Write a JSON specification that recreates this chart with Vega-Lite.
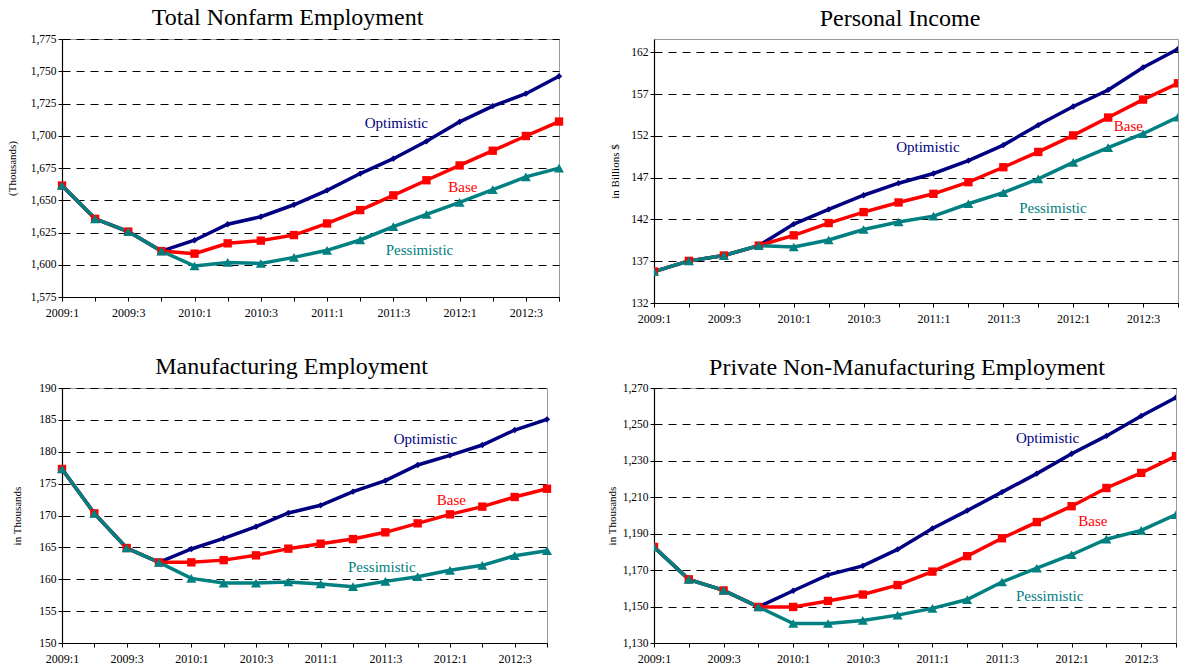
{
  "$schema": "https://vega.github.io/schema/vega-lite/v6.json",
  "padding": {"left": 5, "top": 5, "right": 0, "bottom": 0},
  "background": "white",
  "datasets": {
    "series": [
      {"p":"nonfarm","s":"Optimistic","t":0,"v":1661.4},{"p":"nonfarm","s":"Optimistic","t":1,"v":1635.6},{"p":"nonfarm","s":"Optimistic","t":2,"v":1625.7},{"p":"nonfarm","s":"Optimistic","t":3,"v":1610.6},
      {"p":"nonfarm","s":"Optimistic","t":4,"v":1619.0},{"p":"nonfarm","s":"Optimistic","t":5,"v":1631.4},{"p":"nonfarm","s":"Optimistic","t":6,"v":1637.2},{"p":"nonfarm","s":"Optimistic","t":7,"v":1646.5},
      {"p":"nonfarm","s":"Optimistic","t":8,"v":1657.7},{"p":"nonfarm","s":"Optimistic","t":9,"v":1670.7},{"p":"nonfarm","s":"Optimistic","t":10,"v":1682.2},{"p":"nonfarm","s":"Optimistic","t":11,"v":1695.7},
      {"p":"nonfarm","s":"Optimistic","t":12,"v":1710.8},{"p":"nonfarm","s":"Optimistic","t":13,"v":1723.0},{"p":"nonfarm","s":"Optimistic","t":14,"v":1732.6},{"p":"nonfarm","s":"Optimistic","t":15,"v":1746.1},
      {"p":"nonfarm","s":"Base","t":0,"v":1661.4},{"p":"nonfarm","s":"Base","t":1,"v":1635.6},{"p":"nonfarm","s":"Base","t":2,"v":1625.7},{"p":"nonfarm","s":"Base","t":3,"v":1610.6},
      {"p":"nonfarm","s":"Base","t":4,"v":1608.6},{"p":"nonfarm","s":"Base","t":5,"v":1616.6},{"p":"nonfarm","s":"Base","t":6,"v":1618.7},{"p":"nonfarm","s":"Base","t":7,"v":1623.0},
      {"p":"nonfarm","s":"Base","t":8,"v":1632.0},{"p":"nonfarm","s":"Base","t":9,"v":1642.4},{"p":"nonfarm","s":"Base","t":10,"v":1653.8},{"p":"nonfarm","s":"Base","t":11,"v":1665.5},
      {"p":"nonfarm","s":"Base","t":12,"v":1677.0},{"p":"nonfarm","s":"Base","t":13,"v":1688.4},{"p":"nonfarm","s":"Base","t":14,"v":1699.8},{"p":"nonfarm","s":"Base","t":15,"v":1711.0},
      {"p":"nonfarm","s":"Pessimistic","t":0,"v":1661.4},{"p":"nonfarm","s":"Pessimistic","t":1,"v":1635.6},{"p":"nonfarm","s":"Pessimistic","t":2,"v":1625.7},{"p":"nonfarm","s":"Pessimistic","t":3,"v":1610.6},
      {"p":"nonfarm","s":"Pessimistic","t":4,"v":1599.0},{"p":"nonfarm","s":"Pessimistic","t":5,"v":1601.8},{"p":"nonfarm","s":"Pessimistic","t":6,"v":1601.0},{"p":"nonfarm","s":"Pessimistic","t":7,"v":1605.7},
      {"p":"nonfarm","s":"Pessimistic","t":8,"v":1611.2},{"p":"nonfarm","s":"Pessimistic","t":9,"v":1619.2},{"p":"nonfarm","s":"Pessimistic","t":10,"v":1629.6},{"p":"nonfarm","s":"Pessimistic","t":11,"v":1639.0},
      {"p":"nonfarm","s":"Pessimistic","t":12,"v":1648.3},{"p":"nonfarm","s":"Pessimistic","t":13,"v":1658.2},{"p":"nonfarm","s":"Pessimistic","t":14,"v":1668.1},{"p":"nonfarm","s":"Pessimistic","t":15,"v":1674.9},

      {"p":"income","s":"Optimistic","t":0,"v":135.77},{"p":"income","s":"Optimistic","t":1,"v":137.04},{"p":"income","s":"Optimistic","t":2,"v":137.68},{"p":"income","s":"Optimistic","t":3,"v":138.87},
      {"p":"income","s":"Optimistic","t":4,"v":141.45},{"p":"income","s":"Optimistic","t":5,"v":143.2},{"p":"income","s":"Optimistic","t":6,"v":144.9},{"p":"income","s":"Optimistic","t":7,"v":146.34},
      {"p":"income","s":"Optimistic","t":8,"v":147.5},{"p":"income","s":"Optimistic","t":9,"v":149.05},{"p":"income","s":"Optimistic","t":10,"v":150.9},{"p":"income","s":"Optimistic","t":11,"v":153.3},
      {"p":"income","s":"Optimistic","t":12,"v":155.52},{"p":"income","s":"Optimistic","t":13,"v":157.5},{"p":"income","s":"Optimistic","t":14,"v":160.2},{"p":"income","s":"Optimistic","t":15,"v":162.4},
      {"p":"income","s":"Base","t":0,"v":135.77},{"p":"income","s":"Base","t":1,"v":137.04},{"p":"income","s":"Base","t":2,"v":137.68},{"p":"income","s":"Base","t":3,"v":138.87},
      {"p":"income","s":"Base","t":4,"v":140.1},{"p":"income","s":"Base","t":5,"v":141.57},{"p":"income","s":"Base","t":6,"v":142.88},{"p":"income","s":"Base","t":7,"v":144.03},
      {"p":"income","s":"Base","t":8,"v":145.07},{"p":"income","s":"Base","t":9,"v":146.46},{"p":"income","s":"Base","t":10,"v":148.25},{"p":"income","s":"Base","t":11,"v":150.08},
      {"p":"income","s":"Base","t":12,"v":152.06},{"p":"income","s":"Base","t":13,"v":154.2},{"p":"income","s":"Base","t":14,"v":156.35},{"p":"income","s":"Base","t":15,"v":158.3},
      {"p":"income","s":"Pessimistic","t":0,"v":135.77},{"p":"income","s":"Pessimistic","t":1,"v":137.04},{"p":"income","s":"Pessimistic","t":2,"v":137.68},{"p":"income","s":"Pessimistic","t":3,"v":138.87},
      {"p":"income","s":"Pessimistic","t":4,"v":138.7},{"p":"income","s":"Pessimistic","t":5,"v":139.54},{"p":"income","s":"Pessimistic","t":6,"v":140.8},{"p":"income","s":"Pessimistic","t":7,"v":141.7},
      {"p":"income","s":"Pessimistic","t":8,"v":142.4},{"p":"income","s":"Pessimistic","t":9,"v":143.88},{"p":"income","s":"Pessimistic","t":10,"v":145.2},{"p":"income","s":"Pessimistic","t":11,"v":146.86},
      {"p":"income","s":"Pessimistic","t":12,"v":148.84},{"p":"income","s":"Pessimistic","t":13,"v":150.6},{"p":"income","s":"Pessimistic","t":14,"v":152.26},{"p":"income","s":"Pessimistic","t":15,"v":154.25},

      {"p":"manuf","s":"Optimistic","t":0,"v":177.3},{"p":"manuf","s":"Optimistic","t":1,"v":170.34},{"p":"manuf","s":"Optimistic","t":2,"v":164.9},{"p":"manuf","s":"Optimistic","t":3,"v":162.65},
      {"p":"manuf","s":"Optimistic","t":4,"v":164.75},{"p":"manuf","s":"Optimistic","t":5,"v":166.42},{"p":"manuf","s":"Optimistic","t":6,"v":168.25},{"p":"manuf","s":"Optimistic","t":7,"v":170.4},
      {"p":"manuf","s":"Optimistic","t":8,"v":171.6},{"p":"manuf","s":"Optimistic","t":9,"v":173.74},{"p":"manuf","s":"Optimistic","t":10,"v":175.46},{"p":"manuf","s":"Optimistic","t":11,"v":177.92},
      {"p":"manuf","s":"Optimistic","t":12,"v":179.44},{"p":"manuf","s":"Optimistic","t":13,"v":181.06},{"p":"manuf","s":"Optimistic","t":14,"v":183.41},{"p":"manuf","s":"Optimistic","t":15,"v":185.08},
      {"p":"manuf","s":"Base","t":0,"v":177.3},{"p":"manuf","s":"Base","t":1,"v":170.34},{"p":"manuf","s":"Base","t":2,"v":164.9},{"p":"manuf","s":"Base","t":3,"v":162.65},
      {"p":"manuf","s":"Base","t":4,"v":162.65},{"p":"manuf","s":"Base","t":5,"v":163.0},{"p":"manuf","s":"Base","t":6,"v":163.75},{"p":"manuf","s":"Base","t":7,"v":164.8},
      {"p":"manuf","s":"Base","t":8,"v":165.58},{"p":"manuf","s":"Base","t":9,"v":166.3},{"p":"manuf","s":"Base","t":10,"v":167.36},{"p":"manuf","s":"Base","t":11,"v":168.77},
      {"p":"manuf","s":"Base","t":12,"v":170.18},{"p":"manuf","s":"Base","t":13,"v":171.39},{"p":"manuf","s":"Base","t":14,"v":172.9},{"p":"manuf","s":"Base","t":15,"v":174.2},
      {"p":"manuf","s":"Pessimistic","t":0,"v":177.3},{"p":"manuf","s":"Pessimistic","t":1,"v":170.34},{"p":"manuf","s":"Pessimistic","t":2,"v":164.9},{"p":"manuf","s":"Pessimistic","t":3,"v":162.65},
      {"p":"manuf","s":"Pessimistic","t":4,"v":160.14},{"p":"manuf","s":"Pessimistic","t":5,"v":159.4},{"p":"manuf","s":"Pessimistic","t":6,"v":159.4},{"p":"manuf","s":"Pessimistic","t":7,"v":159.57},
      {"p":"manuf","s":"Pessimistic","t":8,"v":159.25},{"p":"manuf","s":"Pessimistic","t":9,"v":158.84},{"p":"manuf","s":"Pessimistic","t":10,"v":159.67},{"p":"manuf","s":"Pessimistic","t":11,"v":160.4},
      {"p":"manuf","s":"Pessimistic","t":12,"v":161.4},{"p":"manuf","s":"Pessimistic","t":13,"v":162.18},{"p":"manuf","s":"Pessimistic","t":14,"v":163.7},{"p":"manuf","s":"Pessimistic","t":15,"v":164.48},

      {"p":"nonman","s":"Optimistic","t":0,"v":1182.7},{"p":"nonman","s":"Optimistic","t":1,"v":1164.95},{"p":"nonman","s":"Optimistic","t":2,"v":1158.85},{"p":"nonman","s":"Optimistic","t":3,"v":1149.8},
      {"p":"nonman","s":"Optimistic","t":4,"v":1158.7},{"p":"nonman","s":"Optimistic","t":5,"v":1167.4},{"p":"nonman","s":"Optimistic","t":6,"v":1172.35},{"p":"nonman","s":"Optimistic","t":7,"v":1181.4},
      {"p":"nonman","s":"Optimistic","t":8,"v":1192.9},{"p":"nonman","s":"Optimistic","t":9,"v":1202.7},{"p":"nonman","s":"Optimistic","t":10,"v":1212.85},{"p":"nonman","s":"Optimistic","t":11,"v":1223.0},
      {"p":"nonman","s":"Optimistic","t":12,"v":1233.9},{"p":"nonman","s":"Optimistic","t":13,"v":1243.7},{"p":"nonman","s":"Optimistic","t":14,"v":1254.65},{"p":"nonman","s":"Optimistic","t":15,"v":1264.8},
      {"p":"nonman","s":"Base","t":0,"v":1182.7},{"p":"nonman","s":"Base","t":1,"v":1164.95},{"p":"nonman","s":"Base","t":2,"v":1158.85},{"p":"nonman","s":"Base","t":3,"v":1149.8},
      {"p":"nonman","s":"Base","t":4,"v":1149.8},{"p":"nonman","s":"Base","t":5,"v":1153.1},{"p":"nonman","s":"Base","t":6,"v":1156.6},{"p":"nonman","s":"Base","t":7,"v":1161.8},
      {"p":"nonman","s":"Base","t":8,"v":1169.2},{"p":"nonman","s":"Base","t":9,"v":1177.7},{"p":"nonman","s":"Base","t":10,"v":1187.5},{"p":"nonman","s":"Base","t":11,"v":1196.4},
      {"p":"nonman","s":"Base","t":12,"v":1205.1},{"p":"nonman","s":"Base","t":13,"v":1215.1},{"p":"nonman","s":"Base","t":14,"v":1223.4},{"p":"nonman","s":"Base","t":15,"v":1232.6},
      {"p":"nonman","s":"Pessimistic","t":0,"v":1182.7},{"p":"nonman","s":"Pessimistic","t":1,"v":1164.95},{"p":"nonman","s":"Pessimistic","t":2,"v":1158.85},{"p":"nonman","s":"Pessimistic","t":3,"v":1149.8},
      {"p":"nonman","s":"Pessimistic","t":4,"v":1140.7},{"p":"nonman","s":"Pessimistic","t":5,"v":1140.7},{"p":"nonman","s":"Pessimistic","t":6,"v":1142.4},{"p":"nonman","s":"Pessimistic","t":7,"v":1145.3},
      {"p":"nonman","s":"Pessimistic","t":8,"v":1149.0},{"p":"nonman","s":"Pessimistic","t":9,"v":1153.85},{"p":"nonman","s":"Pessimistic","t":10,"v":1163.5},{"p":"nonman","s":"Pessimistic","t":11,"v":1171.05},
      {"p":"nonman","s":"Pessimistic","t":12,"v":1178.45},{"p":"nonman","s":"Pessimistic","t":13,"v":1187.0},{"p":"nonman","s":"Pessimistic","t":14,"v":1191.8},{"p":"nonman","s":"Pessimistic","t":15,"v":1200.5}
    ],
    "labels": [
      {"p":"nonfarm","s":"Optimistic","t":10.09,"v":1709.6},{"p":"nonfarm","s":"Base","t":12.1,"v":1660.6},{"p":"nonfarm","s":"Pessimistic","t":10.79,"v":1611.6},
      {"p":"income","s":"Optimistic","t":7.84,"v":150.67},{"p":"income","s":"Base","t":13.58,"v":153.18},{"p":"income","s":"Pessimistic","t":11.42,"v":143.38},
      {"p":"manuf","s":"Optimistic","t":11.24,"v":182.05},{"p":"manuf","s":"Base","t":12.04,"v":172.48},{"p":"manuf","s":"Pessimistic","t":9.89,"v":162.0},
      {"p":"nonman","s":"Optimistic","t":11.31,"v":1242.8},{"p":"nonman","s":"Base","t":12.61,"v":1197.1},{"p":"nonman","s":"Pessimistic","t":11.37,"v":1155.9}
    ]
  },
  "columns": 2,
  "align": "each",
  "bounds": "flush",
  "spacing": {"column": 95, "row": 85},
  "resolve": {"scale": {"x": "independent", "y": "independent"}},
  "concat": [
    {
      "width": 497, "height": 258,
      "title": {"text": "Total Nonfarm Employment", "dx": -23, "offset": 3},
      "encoding": {
        "x": {"field": "t", "type": "quantitative", "scale": {"domain": [0, 15], "nice": false, "zero": false},
              "axis": {"title": null, "values": [0,1,2,3,4,5,6,7,8,9,10,11,12,13,14,15], "labelExpr": "datum.value % 2 == 0 ? (2009 + floor(datum.value / 4)) + ':' + (datum.value % 4 + 1) : ''"}},
        "y": {"field": "v", "type": "quantitative", "scale": {"domain": [1575, 1775], "nice": false, "zero": false},
              "axis": {"title": "(Thousands)", "values": [1575,1600,1625,1650,1675,1700,1725,1750,1775], "format": ",.0f", "titlePadding": 13}},
        "color": {"field": "s", "type": "nominal", "scale": {"domain": ["Optimistic","Base","Pessimistic"], "range": ["#000080","#ff0000","#008080"]}, "legend": null}
      },
      "layer": [
        {"data": {"name": "series"}, "transform": [{"filter": "datum.p == 'nonfarm'"}], "mark": {"type": "line", "strokeWidth": 3.5}},
        {"data": {"name": "series"}, "transform": [{"filter": "datum.p == 'nonfarm'"}], "mark": {"type": "point", "filled": true, "opacity": 1},
         "encoding": {"shape": {"field": "s", "type": "nominal", "scale": {"domain": ["Optimistic","Base","Pessimistic"], "range": ["diamond","square","triangle-up"]}, "legend": null},
                      "size": {"field": "s", "type": "ordinal", "scale": {"domain": ["Optimistic","Base","Pessimistic"], "range": [40, 100, 70]}, "legend": null}}},
        {"data": {"name": "labels"}, "transform": [{"filter": "datum.p == 'nonfarm'"}], "mark": {"type": "text", "font": "Liberation Serif", "fontSize": 15},
         "encoding": {"text": {"field": "s"}}}
      ]
    },
    {
      "width": 524, "height": 264,
      "title": {"text": "Personal Income", "dx": -16, "offset": 8},
      "encoding": {
        "x": {"field": "t", "type": "quantitative", "scale": {"domain": [0, 15], "nice": false, "zero": false},
              "axis": {"title": null, "values": [0,1,2,3,4,5,6,7,8,9,10,11,12,13,14,15], "labelExpr": "datum.value % 2 == 0 ? (2009 + floor(datum.value / 4)) + ':' + (datum.value % 4 + 1) : ''"}},
        "y": {"field": "v", "type": "quantitative", "scale": {"domain": [132, 163.6], "nice": false, "zero": false},
              "axis": {"title": "in Billions $", "values": [132,137,142,147,152,157,162], "format": ".0f", "titlePadding": 10}},
        "color": {"field": "s", "type": "nominal", "scale": {"domain": ["Optimistic","Base","Pessimistic"], "range": ["#000080","#ff0000","#008080"]}, "legend": null}
      },
      "layer": [
        {"data": {"name": "series"}, "transform": [{"filter": "datum.p == 'income'"}], "mark": {"type": "line", "strokeWidth": 3.5, "clip": true}},
        {"data": {"name": "series"}, "transform": [{"filter": "datum.p == 'income'"}], "mark": {"type": "point", "filled": true, "opacity": 1, "clip": true},
         "encoding": {"shape": {"field": "s", "type": "nominal", "scale": {"domain": ["Optimistic","Base","Pessimistic"], "range": ["diamond","square","triangle-up"]}, "legend": null},
                      "size": {"field": "s", "type": "ordinal", "scale": {"domain": ["Optimistic","Base","Pessimistic"], "range": [40, 100, 70]}, "legend": null}}},
        {"data": {"name": "labels"}, "transform": [{"filter": "datum.p == 'income'"}], "mark": {"type": "text", "font": "Liberation Serif", "fontSize": 15},
         "encoding": {"text": {"field": "s"}}}
      ]
    },
    {
      "width": 485, "height": 255,
      "title": {"text": "Manufacturing Employment", "dx": -13, "offset": 3},
      "encoding": {
        "x": {"field": "t", "type": "quantitative", "scale": {"domain": [0, 15], "nice": false, "zero": false},
              "axis": {"title": null, "values": [0,1,2,3,4,5,6,7,8,9,10,11,12,13,14,15], "labelExpr": "datum.value % 2 == 0 ? (2009 + floor(datum.value / 4)) + ':' + (datum.value % 4 + 1) : ''"}},
        "y": {"field": "v", "type": "quantitative", "scale": {"domain": [150, 190], "nice": false, "zero": false},
              "axis": {"title": "in Thousands", "values": [150,155,160,165,170,175,180,185,190], "format": ".0f", "titlePadding": 16}},
        "color": {"field": "s", "type": "nominal", "scale": {"domain": ["Optimistic","Base","Pessimistic"], "range": ["#000080","#ff0000","#008080"]}, "legend": null}
      },
      "layer": [
        {"data": {"name": "series"}, "transform": [{"filter": "datum.p == 'manuf'"}], "mark": {"type": "line", "strokeWidth": 3.5}},
        {"data": {"name": "series"}, "transform": [{"filter": "datum.p == 'manuf'"}], "mark": {"type": "point", "filled": true, "opacity": 1},
         "encoding": {"shape": {"field": "s", "type": "nominal", "scale": {"domain": ["Optimistic","Base","Pessimistic"], "range": ["diamond","square","triangle-up"]}, "legend": null},
                      "size": {"field": "s", "type": "ordinal", "scale": {"domain": ["Optimistic","Base","Pessimistic"], "range": [40, 100, 70]}, "legend": null}}},
        {"data": {"name": "labels"}, "transform": [{"filter": "datum.p == 'manuf'"}], "mark": {"type": "text", "font": "Liberation Serif", "fontSize": 15},
         "encoding": {"text": {"field": "s"}}}
      ]
    },
    {
      "width": 522, "height": 255,
      "title": {"text": "Private Non-Manufacturing Employment", "dx": -8, "offset": 2},
      "encoding": {
        "x": {"field": "t", "type": "quantitative", "scale": {"domain": [0, 15], "nice": false, "zero": false},
              "axis": {"title": null, "values": [0,1,2,3,4,5,6,7,8,9,10,11,12,13,14,15], "labelExpr": "datum.value % 2 == 0 ? (2009 + floor(datum.value / 4)) + ':' + (datum.value % 4 + 1) : ''"}},
        "y": {"field": "v", "type": "quantitative", "scale": {"domain": [1130, 1270], "nice": false, "zero": false},
              "axis": {"title": "in Thousands", "values": [1130,1150,1170,1190,1210,1230,1250,1270], "format": ",.0f", "titlePadding": 5}},
        "color": {"field": "s", "type": "nominal", "scale": {"domain": ["Optimistic","Base","Pessimistic"], "range": ["#000080","#ff0000","#008080"]}, "legend": null}
      },
      "layer": [
        {"data": {"name": "series"}, "transform": [{"filter": "datum.p == 'nonman'"}], "mark": {"type": "line", "strokeWidth": 3.5, "clip": true}},
        {"data": {"name": "series"}, "transform": [{"filter": "datum.p == 'nonman'"}], "mark": {"type": "point", "filled": true, "opacity": 1, "clip": true},
         "encoding": {"shape": {"field": "s", "type": "nominal", "scale": {"domain": ["Optimistic","Base","Pessimistic"], "range": ["diamond","square","triangle-up"]}, "legend": null},
                      "size": {"field": "s", "type": "ordinal", "scale": {"domain": ["Optimistic","Base","Pessimistic"], "range": [40, 100, 70]}, "legend": null}}},
        {"data": {"name": "labels"}, "transform": [{"filter": "datum.p == 'nonman'"}], "mark": {"type": "text", "font": "Liberation Serif", "fontSize": 15},
         "encoding": {"text": {"field": "s"}}}
      ]
    }
  ],
  "config": {
    "view": {"stroke": "#999999", "strokeWidth": 1},
    "title": {"font": "Liberation Serif", "fontSize": 24, "fontWeight": "normal", "color": "#000000", "baseline": "alphabetic"},
    "axis": {"labelFont": "Liberation Serif", "titleFont": "Liberation Serif", "labelColor": "#000000", "titleColor": "#000000", "titleFontWeight": "normal", "domainColor": "#000000", "tickColor": "#000000", "domainWidth": 1.2, "tickSize": 4},
    "axisY": {"grid": true, "gridColor": "#000000", "gridDash": [8, 6], "gridWidth": 1, "labelFontSize": 11.5, "titleFontSize": 11, "labelPadding": 2},
    "axisX": {"grid": false, "labelFontSize": 12, "labelPadding": 6, "labelFlush": false, "labelOverlap": false}
  }
}
